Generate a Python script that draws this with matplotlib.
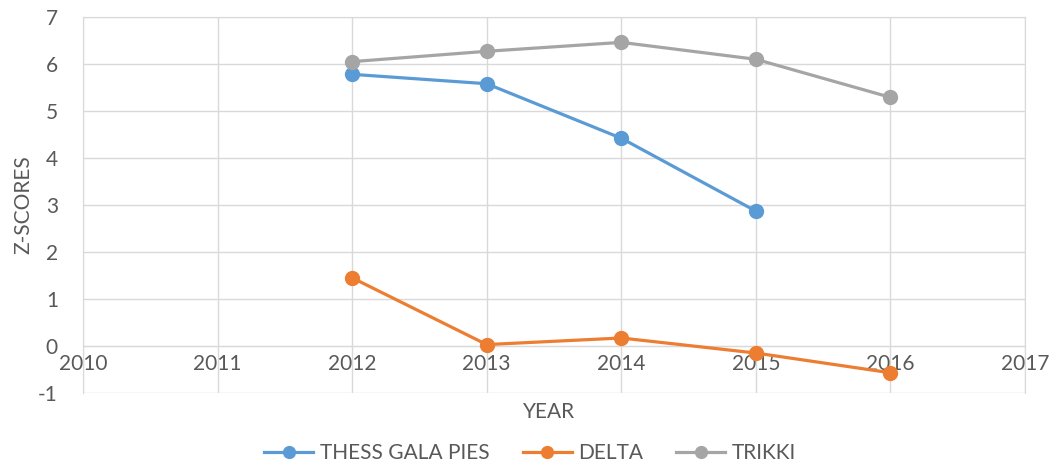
import matplotlib.pyplot as plt
import numpy as np

years = [2012, 2013, 2014, 2015, 2016]
thess = [5.78, 5.58, 4.42, 2.87]
delta = [1.45, 0.03, 0.17, -0.15, -0.57]
trikki = [6.05, 6.27, 6.46, 6.10, 5.29]
x_ticks = list(range(2010, 2018))
y_ticks = list(range(-1, 8))

txt = "#595959"
grid = "#d9d9d9"
plt.rcParams["font.family"] = ["Lato", "DejaVu Sans"]
plt.rcParams["axes.unicode_minus"] = False

fig = plt.figure(figsize=(10.6, 4.68), dpi=100)
ax = fig.add_axes([0.0783, 0.1603, 0.8887, 0.8034])

ax.plot(years[:4], thess, color="#5B9BD5", lw=2.3, marker="o", ms=10, label="THESS GALA PIES", zorder=3)
ax.plot(years, delta, color="#ED7D31", lw=2.3, marker="o", ms=10, label="DELTA", zorder=3)
ax.plot(years, trikki, color="#A5A5A5", lw=2.3, marker="o", ms=10, label="TRIKKI", zorder=3)

ax.set_xlim(2010, 2017)
ax.set_ylim(-1, 7)
ax.set_xticks(x_ticks)
ax.set_yticks(y_ticks)
ax.grid(True, color=grid, lw=1)
ax.set_axisbelow(True)
for s in ax.spines.values():
    s.set_color(grid)
ax.spines["bottom"].set_position(("data", 0))
ax.tick_params(length=0, colors=txt, labelsize=15)
ax.tick_params(axis="x", pad=6)
ax.tick_params(axis="y", pad=18)

fig.text(0.5175, 0.12, "YEAR", ha="center", va="center", color=txt, fontsize=15)
fig.text(0.022, 0.562, "Z-SCORES", ha="center", va="center", rotation=90, color=txt, fontsize=15)

leg = fig.legend(loc="center", bbox_to_anchor=(0.5, 0.032), ncol=3, frameon=False,
                 fontsize=15, handlelength=2.35, columnspacing=1.6, handletextpad=0.3,
                 markerscale=0.85)
for t in leg.get_texts():
    t.set_color(txt)

fig.savefig("out.png")
